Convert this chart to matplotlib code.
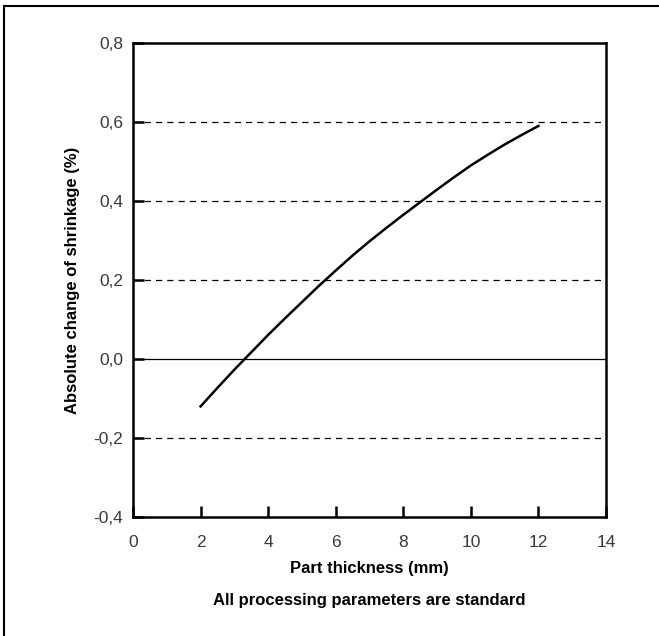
import matplotlib
matplotlib.use("Agg")
import matplotlib.pyplot as plt
from matplotlib.lines import Line2D

plt.rcParams['font.family'] = ['Liberation Sans', 'DejaVu Sans']

# shrinkage change versus part thickness
thickness = [2, 2.5, 3, 3.5, 4, 4.5, 5, 5.5, 6, 6.5, 7, 7.5, 8, 8.5, 9, 9.5,
             10, 10.5, 11, 11.5, 12]
shrink_change = [-0.12, -0.073, -0.027, 0.017, 0.061, 0.103, 0.144, 0.185,
                 0.224, 0.262, 0.298, 0.332, 0.365, 0.397, 0.429, 0.46,
                 0.49, 0.517, 0.543, 0.567, 0.59]

x_ticks = [0, 2, 4, 6, 8, 10, 12, 14]
y_ticks = [-0.4, -0.2, 0.0, 0.2, 0.4, 0.6, 0.8]
y_labels = ["-0,4", "-0,2", "0,0", "0,2", "0,4", "0,6", "0,8"]
dashed_levels = [-0.2, 0.2, 0.4, 0.6]

fig = plt.figure(figsize=(6.59, 6.36), dpi=100)
ax = fig.add_axes([0.2018, 0.1871, 0.7178, 0.7453])

for lvl in dashed_levels:
    ax.axhline(lvl, color="black", lw=0.9, ls=(0, (5, 4)), zorder=1)
ax.axhline(0.0, color="black", lw=0.9, zorder=1)

ax.plot(thickness, shrink_change, color="black", lw=1.8, zorder=3)

ax.set_xlim(0, 14)
ax.set_ylim(-0.4, 0.8)
ax.set_xticks(x_ticks)
ax.set_yticks(y_ticks)
ax.set_yticklabels(y_labels)

for s in ax.spines.values():
    s.set_linewidth(1.8)
ax.tick_params(direction="in", length=8, width=1.8, labelsize=12.5,
               labelcolor="#3a3a3a")
ax.tick_params(axis="x", pad=13)
ax.tick_params(axis="y", pad=7)

ax.set_xlabel("Part thickness (mm)", fontsize=12, fontweight="bold", labelpad=8)
ax.set_ylabel("Absolute change of shrinkage (%)", fontsize=12, fontweight="bold", labelpad=10)

fig.text(0.5607, 1 - 600 / 636, "All processing parameters are standard",
         ha="center", va="center", fontsize=12, fontweight="bold")

# frame lines along top and left edge
fig.add_artist(Line2D([4 / 659, 1.0], [1 - 6 / 636, 1 - 6 / 636],
                      transform=fig.transFigure, color="black", lw=1.5))
fig.add_artist(Line2D([4 / 659, 4 / 659], [0.0, 1 - 6 / 636],
                      transform=fig.transFigure, color="black", lw=1.5))

fig.savefig("out.png", dpi=100)
